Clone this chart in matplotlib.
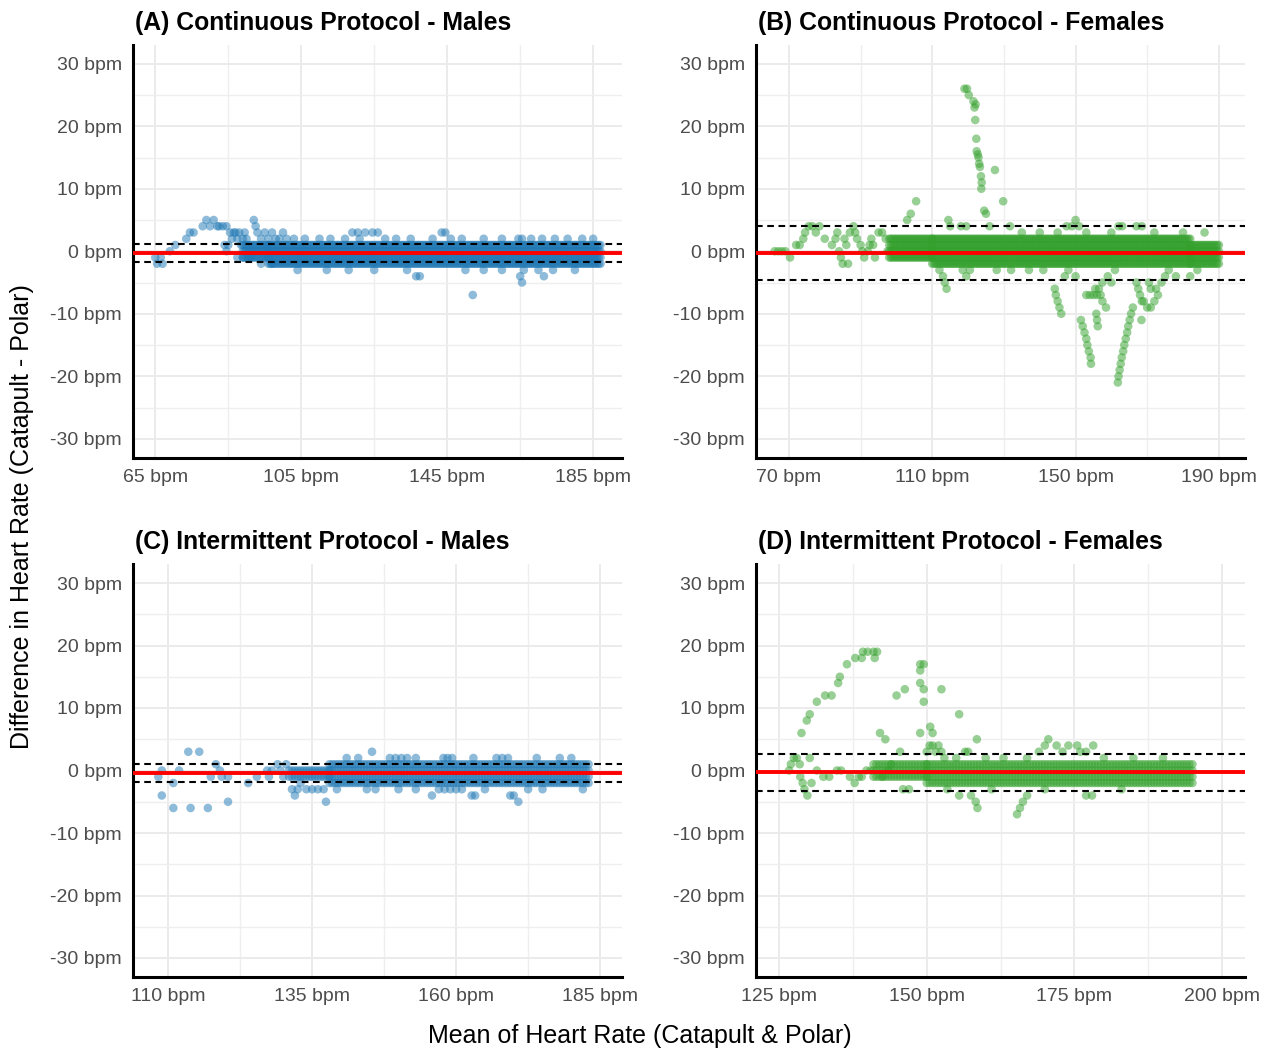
import matplotlib
matplotlib.use("Agg")
import matplotlib.pyplot as plt
from matplotlib import font_manager as fm
import numpy as np

# ---- data (bpm) ----
titles = ["(A) Continuous Protocol - Males", "(B) Continuous Protocol - Females",
          "(C) Intermittent Protocol - Males", "(D) Intermittent Protocol - Females"]

# dense bands: x from, x to, lowest diff, highest diff
a_band_x0 = [89, 96]
a_band_x1 = [96, 187]
a_band_lo = [-1, -2]
a_band_hi = [1, 1]
a_pts_x = [65, 65.5, 66.5, 67, 69, 70.5, 73.5, 74.5, 75.5, 78, 79, 80, 81, 82, 82.5, 83.5, 84.5, 85.5, 84, 84.5, 85,
           86, 86.5, 87, 87.5, 88, 88.5, 89, 89.5, 90, 87.5, 89, 91, 92, 92.5, 93, 94, 95, 96, 97, 98, 99, 100, 101,
           97, 94, 103, 106, 110, 113, 117, 121, 128, 131, 135, 141, 146, 149, 155, 160, 164.5, 165.5, 168, 171,
           174.5, 178, 182, 185, 119, 120.5, 122.5, 124.5, 126, 143.5, 144.5, 104, 112, 118, 125, 134, 150, 155,
           160, 166, 170, 174, 180, 136.5, 137.5, 165, 171.5, 165.5, 152]
a_pts_y = [-1, -2, -1, -2, 0, 1, 2, 3, 3, 4, 5, 4, 5, 4, 4, 4, 4, 3, 1, 0, 1,
           2, 3, 3, 2, 3, 1, 2, 3, 2, -1, -1, -1, 5, 4, 3, 2, 3, 2, 3, 2, 2, 3, 2,
           -2, -2, 2, 2, 2, 2, 2, 2, 2, 2, 2, 2, 2, 2, 2, 2, 2, 2, 2, 2,
           2, 2, 2, 2, 3, 3, 3, 3, 3, 3, 3, -3, -3, -3, -3, -3, -3, -3,
           -3, -3, -3, -3, -3, -4, -4, -4, -4, -5, -7]

b_band_x0 = [98, 110, 182]
b_band_x1 = [110, 182, 190]
b_band_lo = [-1, -2, -2]
b_band_hi = [2, 2, 1]
b_pts_x = [66, 67, 68, 69, 70.3, 72, 73, 74, 74.5, 75.5, 76.5, 77.5, 78.5, 80, 82, 83, 83.5, 84, 84.5, 85, 85.5,
           86, 86.5, 87, 88, 88.5, 89, 90, 90.5, 91, 92, 92.5, 93, 93.5, 94, 95, 96, 97, 97.5,
           103, 104, 105.5, 114.5, 115, 118, 119.5, 126, 125, 127.5, 129.8, 131.7, 135, 140, 145, 147.5, 149,
           150, 151, 153, 160, 162, 163, 167, 168.5, 172, 180, 186,
           119, 119.7, 120.2, 121.5, 121.8, 122.1, 122.0, 122.3, 122.4, 122.7, 122.9, 123.1, 123.3, 123.6,
           123.8, 123.7, 124.5,
           112, 113, 113.5, 114, 118.5, 119.5, 120.5, 128, 132, 137, 141, 144.2, 144.5, 145, 145.5, 146, 147,
           148, 150, 151.5, 152, 152.5, 153, 153.3, 153.7, 154.2, 154.3, 153, 154, 155, 156, 157, 155.5, 156.5,
           157.5, 158.5, 155.8, 156, 156.2, 157.5, 159, 160, 161,
           161.8, 162.0, 162.3, 162.6, 162.9, 163.3, 163.6, 164, 164.4, 164.7, 165.1, 165.5, 168.4, 166, 167,
           167.5, 168, 168.5, 169, 170, 171, 172, 173, 172.5, 174, 170.5, 171, 175, 178, 182, 176, 184]
b_pts_y = [0, 0, 0, 0, -1, 1, 1, 2, 3, 4, 4, 3, 4, 2, 1, 2, 3, 0, -1, -2, 2,
           1, -2, 3, 4, 3, 2, 1, 0, -1, 0, 1, 2, 1, -1, 3, 3, 2, 0,
           5, 6, 8, 5, 4, 4, 4, 4, 6, 13, 8, 4, 3, 3, 3, 4, 4,
           5, 4, 3, 3, 4, 4, 4, 4, 3, 3, 3,
           26, 26, 25, 24, 23, 23.5, 21, 18, 16, 15.5, 15, 14, 13.5, 12,
           11, 10, 6.5,
           -3, -4, -5, -6, -3, -4, -3, -3, -3, -3, -3, -6, -7, -8, -9, -10, -4,
           -3, -4, -11, -12, -13, -14, -15, -16, -17, -18, -7, -7, -7, -7, -7, -6, -6,
           -8, -9, -10, -11, -12, -5, -4, -5, -3,
           -21, -20, -19, -18, -17, -16, -15, -14, -13, -12, -11, -10, -11, -9, -5,
           -6, -7, -8, -8, -9, -9, -8, -7, -6, -5, -5, -6, -4, -4, -4, -3, -3]

c_band_x0 = [131, 138]
c_band_x1 = [138, 183]
c_band_lo = [-1, -2]
c_band_hi = [0, 1]
c_pts_x = [108.3, 108.9, 108.9, 110.9, 110.9, 111.9, 113.5, 113.9, 115.4, 116.9, 117.4, 118.3, 119, 119.3, 120.4,
           120.4, 123.9, 125.4, 127.2, 127.5, 128, 129, 129.5, 130, 130.5, 131.5, 132, 132.5, 133, 134, 135, 136,
           137, 137.4, 139.3, 144.5, 145.4, 141, 143, 148.5, 149.5, 150.5, 151.5, 153, 155.8, 157.8, 158.5, 159.3,
           157, 158, 159, 160, 161, 162.7, 163.3, 167, 168, 169, 169.4, 170, 170.8, 172.5, 165, 175, 178, 180,
           182, 146, 150, 153, 163, 174]
c_pts_y = [-1, 0, -4, -2, -6, 0, 3, -6, 3, -6, -1, 1, 0, -1, -1,
           -5, -2, -1, 0, -1, 0, 1, 0, -1, 1, -3, -4, -3, -2, -3, -3, -3,
           -3, -5, -3, -3, 3, 2, 2, 2, 2, 2, 2, 2, -4, 2, 2, 2,
           -3, -3, -3, -3, -3, -4, -4, 2, 2, 2, -4, -4, -5, -3, -3, -3, 2, 2,
           -3, -3, -3, -3, 2, 2]

d_band_x0 = [141, 150]
d_band_x1 = [150, 195]
d_band_lo = [-1, -2]
d_band_hi = [1, 1]
d_pts_x = [126.7, 127, 127.5, 128, 128.5, 128.6, 129, 129.3, 129.8, 130.2, 130.5, 128.8, 129.7, 130.2, 131.4,
           132.8, 133.9, 135, 135.3, 136.5, 137.9, 139, 139.2, 140, 141, 141.6, 141.2, 131.4, 132.5, 133.5,
           134.8, 135.5, 137, 137.8, 138.5, 139, 139.8, 140.5,
           142.1, 143, 144.9, 146.3, 148.9, 149.5, 148.9, 148.9, 149.5, 149.5, 148.9, 150.6, 151, 152.5, 155.5,
           158.5, 145.5, 144, 142.5, 143.5,
           150, 150.5, 151, 151.5, 152, 152.5, 153, 155, 157, 156.5, 170, 170.6, 172, 174, 175.5, 176, 178.2,
           169, 173, 177, 180, 185, 160, 163, 167, 190,
           153.5, 155.5, 157.5, 158.3, 158.6, 165.3, 165.8, 166.3, 167, 161, 170, 177, 178, 183, 147, 146]
d_pts_y = [0, 1, 2, 2, 1, -1, -2, -3, -4, 2, -2, 6, 8, 9, 11,
           12, 12, 14, 15, 17, 18, 18, 19, 19, 19, 19, 18, 0, -1, -1,
           0, 0, -1, -2, -1, -1, 0, 0,
           6, 5, 12, 13, 17, 17, 16, 14, 13, 11, 6, 7, 6, 13, 9,
           5, 3, 1, -1, 0,
           3, 4, 4, 3, 4, 3, 2, 2, 3, 3, 4, 5, 4, 4, 4, 3, 4,
           3, 3, 3, 2, 2, 2, 2, 2, 2,
           -3, -4, -4, -5, -6, -7, -6, -5, -4, -3, -3, -4, -4, -3, -3, -3]

# mean bias and limits of agreement
bias = [-0.27, -0.35, -0.4, -0.3]
loa_upper = [1.15, 3.97, 1.1, 2.64]
loa_lower = [-1.68, -4.56, -1.9, -3.23]

x_ticks = [[65, 105, 145, 185], [70, 110, 150, 190], [110, 135, 160, 185], [125, 150, 175, 200]]
x_limits = [(58.9, 192.9), (60.8, 197.3), (103.9, 188.8), (121.1, 203.9)]
y_ticks = [-30, -20, -10, 0, 10, 20, 30]

blue = "#1F78B4"
green = "#33A02C"
colors = [blue, green, blue, green]

bands = [(a_band_x0, a_band_x1, a_band_lo, a_band_hi),
         (b_band_x0, b_band_x1, b_band_lo, b_band_hi),
         (c_band_x0, c_band_x1, c_band_lo, c_band_hi),
         (d_band_x0, d_band_x1, d_band_lo, d_band_hi)]
points = [(a_pts_x, a_pts_y), (b_pts_x, b_pts_y), (c_pts_x, c_pts_y), (d_pts_x, d_pts_y)]


def has_font(name):
    try:
        fm.findfont(fm.FontProperties(family=name), fallback_to_default=False)
        return True
    except ValueError:
        return False


if has_font("Liberation Sans Narrow"):
    plt.rcParams["font.family"] = ["Liberation Sans Narrow", "DejaVu Sans"]
    title_size, label_size, tick_size = 21.5, 21.5, 16.8
else:
    plt.rcParams["font.family"] = ["Liberation Sans", "DejaVu Sans"]
    title_size, label_size, tick_size = 17.8, 18, 14


def expand_band(x0s, x1s, los, his):
    # every recorded (mean, difference) cell inside a dense band, 0.5 bpm apart
    xs, ys = [], []
    for x0, x1, lo, hi in zip(x0s, x1s, los, his):
        for x in np.arange(x0, x1 + 0.01, 0.5):
            for y in range(lo, hi + 1):
                xs.append(x)
                ys.append(y)
    return xs, ys


W, H = 1269, 1054
fig = plt.figure(figsize=(W / 100, H / 100), dpi=100)
lefts = [133, 756, 133, 756]
tops = [45, 45, 564.25, 564.25]
aw, ah = 489, 412.5

for i in range(4):
    ax = fig.add_axes([lefts[i] / W, 1 - (tops[i] + ah) / H, aw / W, ah / H])
    bx, by = expand_band(*bands[i])
    px, py = points[i]
    ax.scatter(bx + list(px), by + list(py), s=38, color=colors[i], alpha=0.5,
               edgecolors="none", zorder=2)
    ax.axhline(bias[i], color="red", lw=2.8, zorder=3)
    for v in (loa_upper[i], loa_lower[i]):
        ax.axhline(v, color="black", lw=1.5, linestyle=(0, (3.2, 2.2)), zorder=3)

    ax.set_xlim(*x_limits[i])
    ax.set_ylim(-33, 33)
    xt = x_ticks[i]
    ax.set_xticks(xt)
    ax.set_xticks([(xt[k] + xt[k + 1]) / 2 for k in range(3)], minor=True)
    ax.set_xticklabels([f"{t} bpm" for t in xt])
    ax.set_yticks(y_ticks)
    ax.set_yticks([-25, -15, -5, 5, 15, 25], minor=True)
    ax.set_yticklabels([f"{t} bpm" for t in y_ticks])
    ax.grid(which="major", color="#EBEBEB", lw=1.4, zorder=0)
    ax.grid(which="minor", color="#EFEFEF", lw=1.0, zorder=0)
    ax.set_axisbelow(True)
    ax.tick_params(which="both", length=0, labelsize=tick_size, labelcolor="#4D4D4D")
    ax.tick_params(axis="y", pad=8)
    ax.tick_params(axis="x", pad=8)
    for s in ("top", "right"):
        ax.spines[s].set_visible(False)
    for s in ("left", "bottom"):
        ax.spines[s].set_linewidth(2.2)
        ax.spines[s].set_color("black")
    ax.set_title(titles[i], loc="left", fontsize=title_size, fontweight="bold", pad=11, x=0.004)

fig.text(0.0175, 0.5095, "Difference in Heart Rate (Catapult - Polar)", rotation=90,
         ha="center", va="center", fontsize=label_size)
fig.text(0.5043, 0.017, "Mean of Heart Rate (Catapult & Polar)", ha="center", va="center",
         fontsize=label_size)

fig.savefig("out.png", dpi=100)
